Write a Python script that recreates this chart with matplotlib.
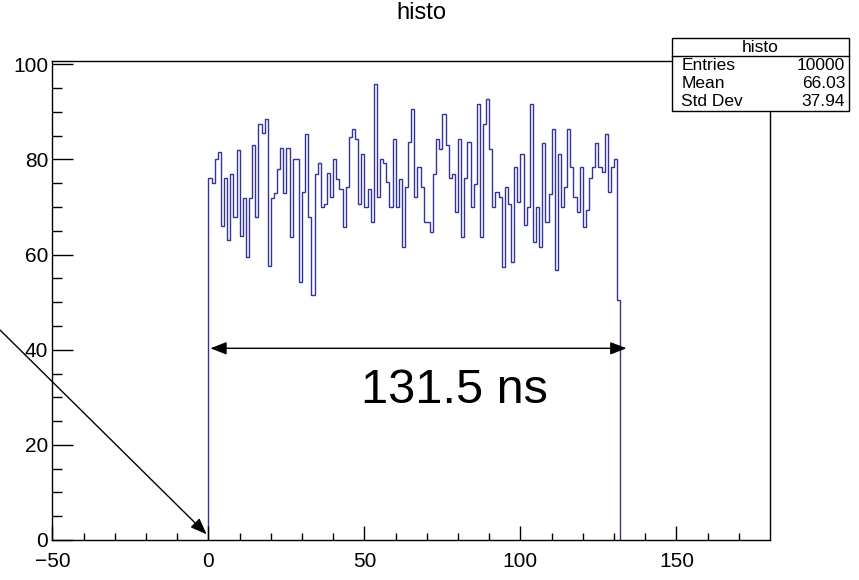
import matplotlib
matplotlib.use("Agg")
import matplotlib.pyplot as plt
from matplotlib.patches import Rectangle
import numpy as np

plt.rcParams['font.family'] = ['Liberation Sans', 'DejaVu Sans']

# bin contents, 1 ns bins starting at 0
counts = [76, 75, 80, 81.5, 66, 76, 63, 77, 68, 82, 64, 72, 59.5, 72, 83, 68, 87.5, 85.5, 88.5, 57.5,
          72, 73, 78, 82.5, 73, 82.5, 63.7, 80.2, 80.2, 54.3, 73.2, 85.4, 67.9, 51.5, 77, 79.3, 70, 70.7,
          77.2, 72.1, 80.2, 75.9, 73.8, 65.8, 74.2, 84.7, 86.5, 84.4, 70.7, 81.2, 70, 73.8, 66.9, 95.9,
          72.1, 80.2, 79.3, 75.3, 70, 84.4, 70, 75.9, 61.6, 74.2, 83.7, 90.7, 72.1, 78.4, 74.2, 66.9,
          66.9, 64.8, 77, 84.4, 82.3, 89.6, 83, 76, 77, 69, 84.4, 63.7, 76, 83.7, 70, 74.9, 91.7, 63.7,
          87.5, 92.8, 82.3, 70, 73.1, 72.1, 57.4, 74.2, 70.7, 58.5, 78.4, 71.1, 81.2, 66.2, 70, 91.7,
          62.7, 70, 61.6, 83.5, 66.9, 72.8, 86.5, 56.7, 81.2, 70, 74.2, 86.5, 78.4, 72.1, 69, 78.4,
          65.9, 69.3, 76, 78.4, 83.5, 78.4, 77.4, 85.4, 73.1, 78.4, 80.2, 50.4]
bin_start = 0
bin_width = 1

hist_name = "histo"
stat_labels = ["Entries", "Mean", "Std Dev"]
stat_values = ["10000", "66.03", "37.94"]

width_start = 0.6
width_end = 134.0
width_label = "131.5 ns"

edges = bin_start + bin_width * np.arange(len(counts) + 1)

fig = plt.figure(figsize=(8.59, 5.8), dpi=100)
ax = fig.add_axes([0.0611, 0.069, 0.8353, 0.8258])

ax.stairs(counts, edges, baseline=0, color='#333399', linewidth=1.0)

ax.set_xlim(-50, 180)
ax.set_ylim(0, 100.7)
ax.set_xticks([-50, 0, 50, 100, 150])
ax.set_xticks(np.arange(-40, 180, 10), minor=True)
ax.set_yticks([0, 20, 40, 60, 80, 100])
ax.set_yticks(np.arange(5, 100, 5), minor=True)
ax.tick_params(axis='both', which='both', direction='in', top=False, right=False, width=1, labelsize=15)
ax.tick_params(axis='x', which='major', length=10, pad=9)
ax.tick_params(axis='x', which='minor', length=5)
ax.tick_params(axis='y', which='major', length=15, pad=3)
ax.tick_params(axis='y', which='minor', length=7.5)
ax.xaxis.set_major_formatter(plt.FuncFormatter(lambda v, p: f"{v:g}".replace('-', '\u2212')))
for s in ax.spines.values():
    s.set_linewidth(1)

fig.text(0.49, 0.977, hist_name, ha='center', va='center', fontsize=17)

# stats box (ROOT style)
bx0, bx1 = 0.7823, 0.988
by0, by1 = 1 - 111 / 580, 1 - 38 / 580
fig.patches.append(Rectangle((bx0, by0), bx1 - bx0, by1 - by0, transform=fig.transFigure,
                             facecolor='white', edgecolor='black', linewidth=1, zorder=5))
row_h = (by1 - by0) / 4
fig.text((bx0 + bx1) / 2, by1 - row_h / 2, hist_name, ha='center', va='center', fontsize=12.5, zorder=6)
fig.add_artist(plt.Line2D([bx0, bx1], [by1 - row_h, by1 - row_h], transform=fig.transFigure,
                          color='black', linewidth=1, zorder=6))
for i, (lab, val) in enumerate(zip(stat_labels, stat_values)):
    yy = by1 - row_h * (i + 1.5)
    fig.text(bx0 + 0.011, yy, lab, ha='left', va='center', fontsize=12.5, zorder=6)
    fig.text(bx1 - 0.004, yy, val, ha='right', va='center', fontsize=12.5, zorder=6)

# width arrow and label
ax.annotate('', xy=(width_start, 40.3), xytext=(width_end, 40.3),
            arrowprops=dict(arrowstyle='<|-|>,head_length=0.9,head_width=0.35', color='black',
                            linewidth=1, shrinkA=0, shrinkB=0, mutation_scale=11))
ax.text(78.7, 31.5, width_label, ha='center', va='center', fontsize=35)

# pointer arrow to the start of the window
ax.annotate('', xy=(-0.6, 1.2), xycoords='data', xytext=(0.0, 1 - 330 / 580), textcoords='figure fraction',
            arrowprops=dict(arrowstyle='-|>,head_length=0.9,head_width=0.35', color='black',
                            linewidth=1, shrinkA=0, shrinkB=0, mutation_scale=11),
            annotation_clip=False)

fig.savefig('out.png', dpi=100)
